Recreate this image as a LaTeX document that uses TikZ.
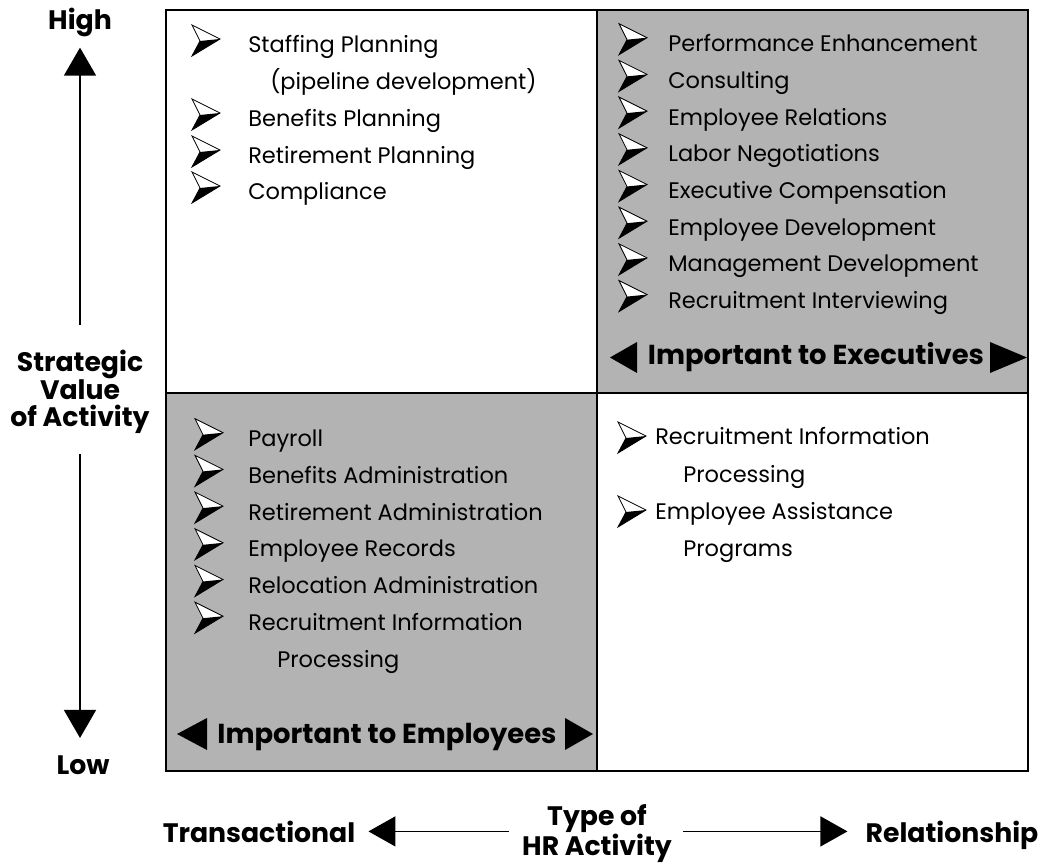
\documentclass[tikz,border=0pt]{standalone}
\usepackage{fontspec}
\setmainfont{Poppins}
\usetikzlibrary{arrows.meta}
\definecolor{quadgray}{HTML}{B3B3B3}

\begin{document}
\begin{tikzpicture}[x=0.025cm,y=-0.025cm]
\tikzstyle{every node}=[inner sep=0pt]
\tikzstyle{item}=[anchor=base west,font=\fontsize{16}{20}\selectfont]
\tikzstyle{axis}=[anchor=base,align=center,font=\fontsize{19}{20}\selectfont\bfseries]
\tikzstyle{imp}=[anchor=base,font=\fontsize{19.5}{20}\selectfont\bfseries]
\tikzstyle{vtip}=[line width=1.1pt,-{Triangle[length=0.7cm,width=0.8cm]}]
\tikzstyle{htip}=[line width=1.1pt,-{Triangle[length=0.675cm,width=0.75cm]}]
\tikzset{bulpic/.pic={
  \draw [line width=0.6pt,fill=white,line join=miter] (0,0) -- (28,14) -- (0,31) -- (8,16) -- cycle;
  \fill (8,16) -- (28,14) -- (0,31) -- cycle;}}
\useasboundingbox (0,0) rectangle (1052,865);
% quadrants
\fill [quadgray] (597,10) rectangle (1028,393);
\fill [quadgray] (166,393) rectangle (597,771);
\draw [line width=1.2pt] (166,10) rectangle (1028,771);
\draw [line width=1.2pt] (597,10) -- (597,771);
\draw [line width=1.2pt] (166,393) -- (1028,393);
% top left
\foreach \y in {53,127,164,200} \pic at (192,\y-28) {bulpic};
\node[item] (tl1) at (248,53) {Staffing Planning};
\node[item] (tl2) at (270,90) {(pipeline development)};
\node[item] (tl3) at (248,127) {Benefits Planning};
\node[item] (tl4) at (248,164) {Retirement Planning};
\node[item] (tl5) at (248,200) {Compliance};
% top right
\foreach \t [count=\i] in {Performance Enhancement,Consulting,Employee Relations,Labor Negotiations,Executive Compensation,Employee Development,Management Development,Recruitment Interviewing}
{
  \pic at (619,15+36.7*\i-28) {bulpic};
  \node[item] (tr\i) at (668,15+36.7*\i) {\t};
}
\node[imp] (exe) at (816,365) {Important to Executives};
\fill (610,357.5) -- (637,342) -- (637,373) -- cycle;
\fill (1027,357.5) -- (990,342) -- (990,373) -- cycle;
% bottom left
\foreach \t [count=\i] in {Payroll,Benefits Administration,Retirement Administration,Employee Records,Relocation Administration,Recruitment Information}
{
  \pic at (195,410+36.7*\i-28) {bulpic};
  \node[item] (bl\i) at (248,410+36.7*\i) {\t};
}
\node[item] (bl7) at (277,667) {Processing};
\node[imp] (emp) at (387,743) {Important to Employees};
\fill (177,734) -- (207,718) -- (207,750) -- cycle;
\fill (593,734) -- (565,718) -- (565,750) -- cycle;
% bottom right
\pic at (618,422) {bulpic};
\pic at (618,496) {bulpic};
\node[item] (br1) at (655,445) {Recruitment Information};
\node[item] (br2) at (683,482) {Processing};
\node[item] (br3) at (655,519) {Employee Assistance};
\node[item] (br4) at (683,556) {Programs};
% vertical axis
\node[axis] (high) at (80,30) {High};
\node[axis] (low) at (83,774) {Low};
\node[axis,font=\fontsize{19}{19.6}\selectfont\bfseries] (sv) at (80,427) {Strategic\\Value\\of Activity};
\draw [vtip,shorten <=0.625cm,shorten >=0.25cm] (sv.north) -- (sv.north |- high.south);
\draw [vtip,shorten <=0.5cm,shorten >=0.425cm] (sv.south) -- (sv.south |- low.north);
% horizontal axis
\node[axis] (trans) at (259,842) {Transactional};
\node[axis] (rel) at (952,842) {Relationship};
\node[axis,font=\fontsize{19}{21.3}\selectfont\bfseries] (type) at (597,855) {Type of\\HR Activity};
\draw [htip,shorten <=0.325cm,shorten >=0.325cm] (type.west |- trans) -- (trans.east);
\draw [htip,shorten <=0.275cm,shorten >=0.45cm] (type.east |- trans) -- (rel.west |- trans);
\end{tikzpicture}
\end{document}
